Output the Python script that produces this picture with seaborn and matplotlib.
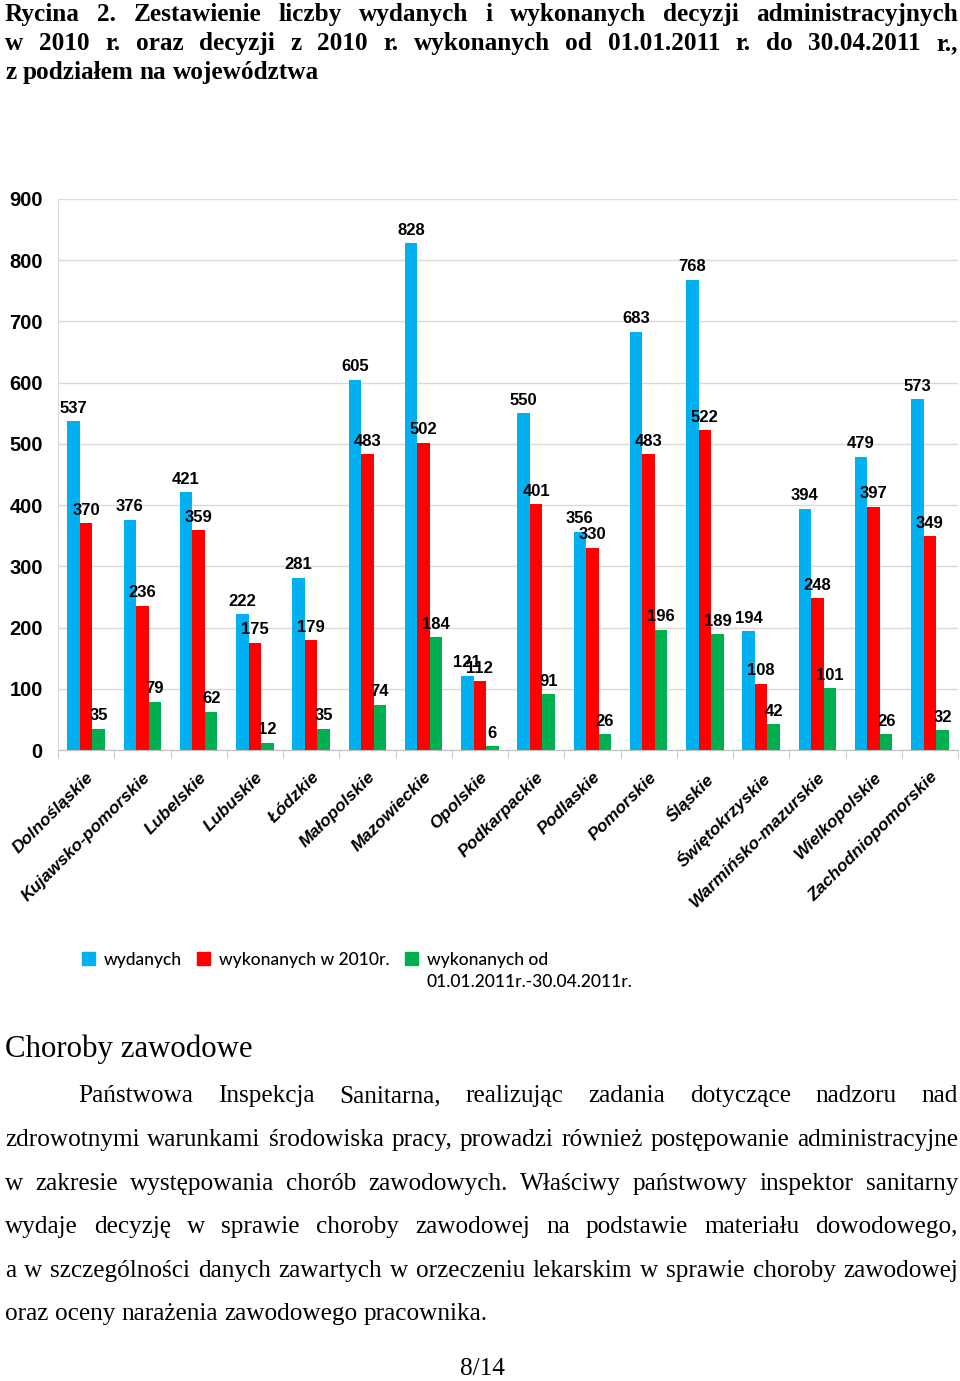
import pandas as pd
import seaborn as sns
import matplotlib.pyplot as plt
from matplotlib.patches import Patch

# data
regions = ['Dolnośląskie', 'Kujawsko-pomorskie', 'Lubelskie', 'Lubuskie', 'Łódzkie',
           'Małopolskie', 'Mazowieckie', 'Opolskie', 'Podkarpackie', 'Podlaskie',
           'Pomorskie', 'Śląskie', 'Świętokrzyskie', 'Warmińsko-mazurskie',
           'Wielkopolskie', 'Zachodniopomorskie']
wydanych = [537, 376, 421, 222, 281, 605, 828, 121, 550, 356, 683, 768, 194, 394, 479, 573]
wykonanych_2010 = [370, 236, 359, 175, 179, 483, 502, 112, 401, 330, 483, 522, 108, 248, 397, 349]
wykonanych_2011 = [35, 79, 62, 12, 35, 74, 184, 6, 91, 26, 196, 189, 42, 101, 26, 32]
series = ['wydanych', 'wykonanych w 2010r.', 'wykonanych od']
colors = ['#00B0F0', '#FF0000', '#00B050']

title_lines = [
    'Rycina 2. Zestawienie liczby wydanych i wykonanych decyzji administracyjnych',
    'w 2010 r. oraz decyzji z 2010 r. wykonanych od 01.01.2011 r. do 30.04.2011 r.,',
    'z podziałem na województwa',
]
heading = 'Choroby zawodowe'
body_lines = [
    'Państwowa Inspekcja Sanitarna, realizując zadania dotyczące nadzoru nad',
    'zdrowotnymi warunkami środowiska pracy, prowadzi również postępowanie administracyjne',
    'w zakresie występowania chorób zawodowych. Właściwy państwowy inspektor sanitarny',
    'wydaje decyzję w sprawie choroby zawodowej na podstawie materiału dowodowego,',
    'a w szczególności danych zawartych w orzeczeniu lekarskim w sprawie choroby zawodowej',
    'oraz oceny narażenia zawodowego pracownika.',
]

W, H = 960, 1381

df = pd.DataFrame({
    'region': regions * 3,
    'value': wydanych + wykonanych_2010 + wykonanych_2011,
    'series': [s for s in series for _ in regions],
})

fig = plt.figure(figsize=(W / 100, H / 100), dpi=100)
renderer = fig.canvas.get_renderer()
ax = fig.add_axes([58 / W, 1 - 750 / H, 900 / W, 551 / H])

sns.barplot(data=df, x='region', y='value', hue='series', palette=colors,
            width=0.67, saturation=1, errorbar=None, legend=False, ax=ax)

for c in ax.containers:
    ax.bar_label(c, padding=4, fontsize=12, fontweight='bold', family='Liberation Sans')

ax.set_ylim(0, 900)
ax.set_xlim(-0.5, len(regions) - 0.5)
ax.set_yticks(range(0, 901, 100))
ax.set_xlabel('')
ax.set_ylabel('')
ax.yaxis.grid(True, color='#d9d9d9', lw=1)
ax.set_axisbelow(True)
for s in ['top', 'right']:
    ax.spines[s].set_visible(False)
ax.spines['left'].set_color('#d9d9d9')
ax.spines['bottom'].set_color('#c0c0c0')
ax.tick_params(axis='y', length=0, pad=11)
ax.tick_params(axis='x', which='major', length=0, pad=14)
ax.set_xticks([i - 0.5 for i in range(len(regions) + 1)], minor=True)
ax.tick_params(axis='x', which='minor', length=6, color='#c0c0c0')
for lab in ax.get_yticklabels():
    lab.set_fontweight('bold')
    lab.set_fontsize(14.5)
    lab.set_family('Liberation Sans')
ax.set_xticks(range(len(regions)))
ax.set_xticklabels(regions, rotation=45, ha='right', rotation_mode='anchor',
                   fontsize=12.5, fontweight='bold', fontstyle='italic', family='Liberation Sans')

# legend
handles = [Patch(color=c) for c in colors]
leg = fig.legend(handles, series, ncol=3, loc='upper left',
                 bbox_to_anchor=(66 / W, 1 - 936 / H), frameon=False,
                 handlelength=0.75, handleheight=0.75, handletextpad=0.5,
                 columnspacing=0.9, prop=dict(family='Lato', size=12.5, weight='medium'))
fig.canvas.draw()
t3 = leg.get_texts()[2].get_window_extent(renderer)
fig.text(t3.x0 / W, (t3.y0 - 22) / H, '01.01.2011r.-30.04.2011r.',
         family='Lato', size=12.5, weight='medium', ha='left', va='bottom')


def text_width(s, **kw):
    t = fig.text(0, 0, s, **kw)
    w = t.get_window_extent(renderer).width
    t.remove()
    return w


def fit_size(s, target, **kw):
    return 20 * target / text_width(s, fontsize=20, **kw)


def put_line(s, y, x0, x1=None, **kw):
    words = s.split(' ')
    texts = [fig.text(0, 1 - y / H, w, va='baseline', ha='left', **kw) for w in words]
    widths = [t.get_window_extent(renderer).width for t in texts]
    if x1 is None or len(words) == 1:
        gap = texts[0].get_fontsize() * 100 / 72 * 0.25
    else:
        gap = (x1 - x0 - sum(widths)) / (len(words) - 1)
    x = x0
    for t, w in zip(texts, widths):
        t.set_x(x / W)
        x += w + gap


serif = 'Liberation Serif'
tsize = fit_size(title_lines[2], 313, family=serif, fontweight='bold')
put_line(title_lines[0], 21, 5, 958, family=serif, fontweight='bold', fontsize=tsize)
put_line(title_lines[1], 50, 5, 958, family=serif, fontweight='bold', fontsize=tsize)
put_line(title_lines[2], 79, 5, None, family=serif, fontweight='bold', fontsize=tsize)

hsize = fit_size(heading, 247, family=serif)
fig.text(5 / W, 1 - 1057 / H, heading, family=serif, fontsize=hsize, va='baseline')

bsize = fit_size(body_lines[-1], 482, family=serif)
baselines = [1102, 1146, 1190, 1233, 1277, 1320]
for i, (line, y) in enumerate(zip(body_lines, baselines)):
    x0 = 78 if i == 0 else 5
    x1 = None if i == len(body_lines) - 1 else 958
    put_line(line, y, x0, x1, family=serif, fontsize=bsize)

fig.text(482 / W, 1 - 1375 / H, '8/14', family=serif, fontsize=bsize, ha='center', va='baseline')

fig.savefig('out.png', dpi=100)
